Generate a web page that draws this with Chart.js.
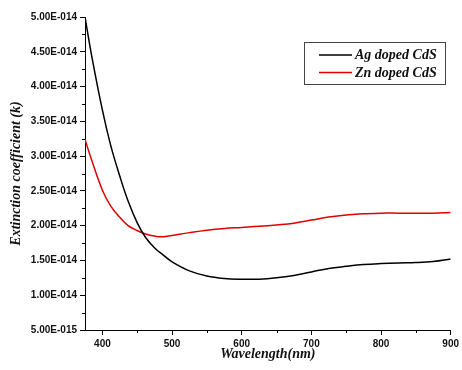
<!DOCTYPE html>
<html>
<head>
<meta charset="utf-8">
<script src="https://cdn.jsdelivr.net/npm/chart.js@4/dist/chart.umd.min.js"></script>
<style>
  html, body { margin: 0; padding: 0; background: #ffffff; }
  #wrap { width: 462px; height: 370px; }
</style>
</head>
<body>
<div id="wrap"><canvas id="c" width="462" height="370"></canvas></div>
<script>
// Wavelength (nm)
const wavelengths = [375, 385, 400, 412, 425, 437, 450, 462, 475, 487, 500, 525, 550, 575, 600, 625, 650, 675, 700, 725, 750, 775, 800, 825, 850, 875, 900];
// Extinction coefficient (k)
const agDopedCdS = [5.00e-14, 4.42e-14, 3.66e-14, 3.15e-14, 2.71e-14, 2.35e-14, 2.04e-14, 1.83e-14, 1.68e-14, 1.58e-14, 1.48e-14, 1.35e-14, 1.275e-14, 1.24e-14, 1.23e-14, 1.23e-14, 1.25e-14, 1.285e-14, 1.335e-14, 1.385e-14, 1.415e-14, 1.44e-14, 1.455e-14, 1.465e-14, 1.47e-14, 1.485e-14, 1.52e-14];
const znDopedCdS = [3.24e-14, 2.93e-14, 2.51e-14, 2.28e-14, 2.12e-14, 2.00e-14, 1.93e-14, 1.88e-14, 1.85e-14, 1.84e-14, 1.86e-14, 1.90e-14, 1.935e-14, 1.96e-14, 1.975e-14, 1.99e-14, 2.01e-14, 2.035e-14, 2.08e-14, 2.125e-14, 2.155e-14, 2.17e-14, 2.18e-14, 2.18e-14, 2.18e-14, 2.18e-14, 2.19e-14];
const seriesLabels = ['Ag doped CdS', 'Zn doped CdS'];
// Tick values
const xTicks = [400, 500, 600, 700, 800, 900];
const xMinorTicks = [450, 550, 650, 750, 850];
const yTicks = [5e-15, 1e-14, 1.5e-14, 2e-14, 2.5e-14, 3e-14, 3.5e-14, 4e-14, 4.5e-14, 5e-14];
const yMinorTicks = [7.5e-15, 1.25e-14, 1.75e-14, 2.25e-14, 2.75e-14, 3.25e-14, 3.75e-14, 4.25e-14, 4.75e-14];

function fmtE(v) {
  const s = v.toExponential(2);
  const [m, e] = s.split('e');
  const n = parseInt(e, 10);
  const sign = n < 0 ? '-' : '+';
  return m + 'E' + sign + String(Math.abs(n)).padStart(3, '0');
}

const tickFont = { family: '"Liberation Sans", Arial, sans-serif', size: 10, weight: 'bold' };
const titleFont = { family: '"Liberation Serif", "Times New Roman", serif', size: 14, weight: 'bold', style: 'italic' };

const minorTicksPlugin = {
  id: 'minorTicks',
  afterDraw(chart) {
    const ctx = chart.ctx;
    const xs = chart.scales.x, ys = chart.scales.y;
    const area = chart.chartArea;
    ctx.save();
    ctx.strokeStyle = '#000';
    ctx.lineWidth = 1;
    ctx.beginPath();
    xMinorTicks.forEach(v => {
      const px = Math.round(xs.getPixelForValue(v)) + 0.5;
      ctx.moveTo(px, area.bottom);
      ctx.lineTo(px, area.bottom + 3);
    });
    yMinorTicks.forEach(v => {
      const py = Math.round(ys.getPixelForValue(v)) + 0.5;
      ctx.moveTo(area.left, py);
      ctx.lineTo(area.left - 3, py);
    });
    ctx.stroke();
    ctx.restore();
  }
};

const boxLegendPlugin = {
  id: 'boxLegend',
  afterDraw(chart) {
    const ctx = chart.ctx;
    const bx = 304.5, by = 42.5, bw = 141, bh = 42;
    ctx.save();
    ctx.strokeStyle = '#444';
    ctx.lineWidth = 1;
    ctx.strokeRect(bx, by, bw, bh);
    ctx.font = 'italic bold 14px "Liberation Serif", "Times New Roman", serif';
    ctx.textBaseline = 'middle';
    ctx.textAlign = 'left';
    chart.data.datasets.forEach((ds, i) => {
      const y = 55 + i * 17.5;
      ctx.strokeStyle = ds.borderColor;
      ctx.lineWidth = 1.6;
      ctx.beginPath();
      ctx.moveTo(319, y);
      ctx.lineTo(352, y);
      ctx.stroke();
      ctx.fillStyle = '#111';
      ctx.fillText(ds.label, 355, y + 0.5);
    });
    ctx.restore();
  }
};

new Chart(document.getElementById('c'), {
  type: 'line',
  data: {
    datasets: [
      {
        label: seriesLabels[0],
        data: wavelengths.map((w, i) => ({ x: w, y: agDopedCdS[i] })),
        borderColor: '#000000',
        borderWidth: 1.5,
        pointRadius: 0,
        tension: 0.4,
        fill: false
      },
      {
        label: seriesLabels[1],
        data: wavelengths.map((w, i) => ({ x: w, y: znDopedCdS[i] })),
        borderColor: '#e00000',
        borderWidth: 1.5,
        pointRadius: 0,
        tension: 0.4,
        fill: false
      }
    ]
  },
  options: {
    responsive: false,
    animation: false,
    events: [],
    layout: { padding: { left: 0, right: 6, top: 17, bottom: 0 } },
    plugins: {
      legend: { display: false },
      tooltip: { enabled: false }
    },
    scales: {
      x: {
        type: 'linear',
        min: 375,
        max: 900,
        afterBuildTicks: s => { s.ticks = xTicks.map(v => ({ value: v })); },
        afterFit: s => { s.height = 40; },
        grid: { drawOnChartArea: false, drawTicks: true, tickLength: 5, color: '#000', lineWidth: 1 },
        border: { display: true, color: '#000', width: 1 },
        ticks: { color: '#111', font: tickFont, padding: 3, maxRotation: 0, autoSkip: false, callback: v => String(v) },
        title: { display: true, text: 'Wavelength(nm)', color: '#111', font: titleFont, padding: { top: 0, bottom: 7 } }
      },
      y: {
        type: 'linear',
        min: 5e-15,
        max: 5e-14,
        afterBuildTicks: s => { s.ticks = yTicks.map(v => ({ value: v })); },
        afterFit: s => { s.width = 85; },
        grid: { drawOnChartArea: false, drawTicks: true, tickLength: 5, color: '#000', lineWidth: 1 },
        border: { display: true, color: '#000', width: 1 },
        ticks: { color: '#111', font: tickFont, padding: 3, autoSkip: false, callback: v => fmtE(v) },
        title: { display: true, text: 'Extinction coefficient (k)', color: '#111', font: titleFont, padding: { top: 8, bottom: 0 } }
      }
    }
  },
  plugins: [minorTicksPlugin, boxLegendPlugin]
});
</script>
</body>
</html>
